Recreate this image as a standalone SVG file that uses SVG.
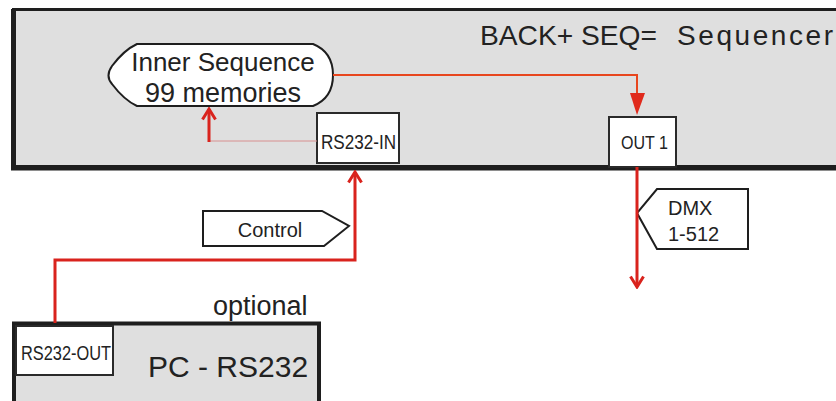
<svg xmlns="http://www.w3.org/2000/svg" width="836" height="401" viewBox="0 0 836 401">
<style>
text{font-family:"Liberation Sans",Arial,sans-serif;fill:#222}
.frame{fill:#dfdfdf;stroke:#1e1e1e}
.port{fill:#fff;stroke:#2a2a2a;stroke-width:2}
.red{fill:none;stroke:#d9231d;stroke-width:3}
.org{fill:none;stroke:#e8461e;stroke-width:2}
.lbl{fill:#fff;stroke:#1e1e1e;stroke-width:2}
</style>
<defs>
<marker id="open" viewBox="0 0 14 16" refX="12" refY="8" markerWidth="14" markerHeight="16" markerUnits="userSpaceOnUse" orient="auto">
<path d="M1.5 1.5 L12 8 L1.5 14.5" fill="none" stroke="#d9231d" stroke-width="3"/>
</marker>
</defs>
<g id="sequencer">
<rect class="frame" x="13.5" y="9.5" width="840" height="157" stroke-width="3"/>
<line x1="13.5" y1="9" x2="13.5" y2="170" stroke="#1e1e1e" stroke-width="5"/>
<line x1="11" y1="168" x2="836" y2="168" stroke="#1e1e1e" stroke-width="5"/>
<text x="480" y="45" font-size="28" textLength="177" lengthAdjust="spacingAndGlyphs">BACK+ SEQ=</text>
<text x="677" y="45" font-size="28" textLength="156">Sequencer</text>
</g>
<g id="inner-sequence">
<path class="lbl" d="M137 44 L313 44 Q333 52 333 75 Q333 98 313 106 L137 106 Q124 100 112 84 Q105 76 112 66 Q124 50 137 44 Z"/>
<text x="223" y="71" font-size="26" text-anchor="middle">Inner Sequence</text>
<text x="223" y="102" font-size="27" text-anchor="middle">99 memories</text>
</g>
<g id="rs232-in">
<rect class="port" x="317" y="113" width="82" height="50"/>
<text x="321" y="149" font-size="20" textLength="75" lengthAdjust="spacingAndGlyphs">RS232-IN</text>
</g>
<g id="out1">
<rect class="port" x="609" y="117" width="67" height="50"/>
<text x="621" y="149" font-size="19" textLength="47" lengthAdjust="spacingAndGlyphs">OUT 1</text>
</g>
<g id="pc">
<text x="213" y="315" font-size="27">optional</text>
<rect class="frame" x="14" y="323.5" width="305" height="90" stroke-width="4"/>
<rect class="port" x="16" y="326" width="97" height="49" stroke-width="1.5"/>
<text x="21" y="360" font-size="20" textLength="90" lengthAdjust="spacingAndGlyphs">RS232-OUT</text>
<text x="148" y="377" font-size="30">PC - RS232</text>
</g>
<g id="control-label">
<path class="lbl" d="M203 211 L322 211 L349 226 L324 246 L203 246 Z"/>
<text x="270" y="237" font-size="20" text-anchor="middle">Control</text>
</g>
<g id="dmx-label">
<path class="lbl" d="M657 189 L748 189 L748 249 L657 249 L637 213 Z"/>
<text x="668" y="215" font-size="20">DMX</text>
<text x="668" y="241" font-size="20">1-512</text>
</g>
<g id="connectors">
<line x1="209" y1="141" x2="317" y2="141" stroke="#d89090" stroke-width="1"/>
<path class="red" d="M209 142 L209 109" marker-end="url(#open)"/>
<path class="org" d="M333 75 L637 75 L637 94"/>
<path d="M630 93 L645 93 L637 115 Z" fill="#e02a1c"/>
<path class="red" d="M55 323 L55 260 L355 260 L355 172" marker-end="url(#open)"/>
<path class="red" d="M637 167 L637 287" marker-end="url(#open)"/>
</g>
</svg>
